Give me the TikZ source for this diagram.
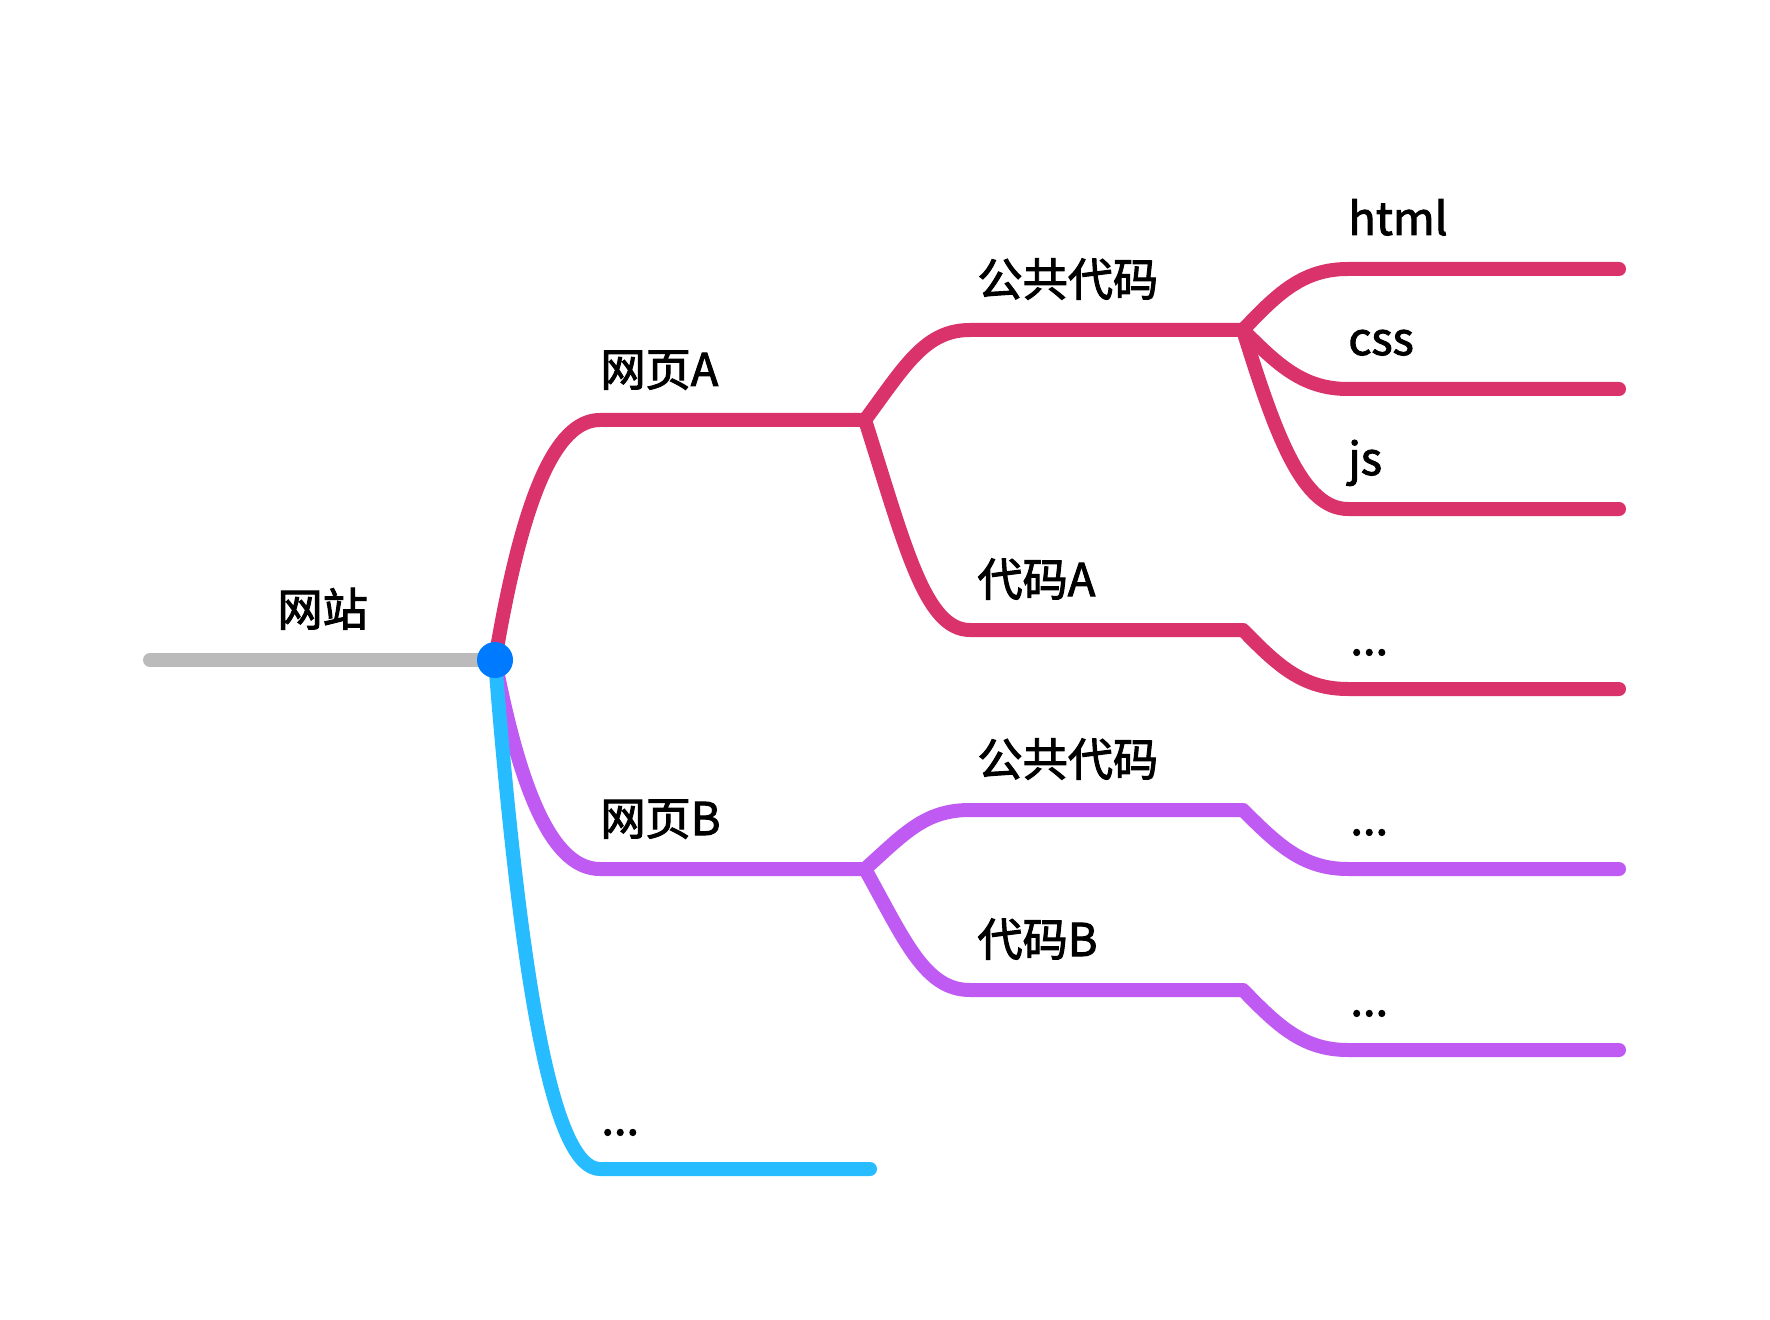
\documentclass[tikz,border=0pt]{standalone}
\usepackage{fontspec}
\setmainfont{Noto Sans CJK SC}[FakeBold=2.2]
\usetikzlibrary{calc}
\definecolor{cRed}{RGB}{218,50,106}
\definecolor{cPurple}{RGB}{191,90,242}
\definecolor{cCyan}{RGB}{38,188,255}
\definecolor{cDot}{RGB}{0,122,255}
\definecolor{cGray}{RGB}{187,187,187}
\tikzset{
  br/.style={line width=7pt, line cap=butt, line join=round},
  lbl/.style={anchor=base west, inner sep=0pt, font=\fontsize{22.6pt}{27pt}\selectfont, text=black},
}
\begin{document}
\begin{tikzpicture}[x=0.5pt,y=-0.5pt]
\useasboundingbox (0,0) rectangle (1770,1320);
% junctions and ends
\coordinate (G0) at (150,660);
\coordinate (R) at (495,660);
\coordinate (CA) at (600,420);  \coordinate (JA) at (865,420);
\coordinate (CB) at (600,869);  \coordinate (JB) at (865,869);
\coordinate (CC) at (600,1169); \coordinate (EC) at (870,1169);
\coordinate (CA1) at (970,330); \coordinate (JA1) at (1243,330);
\coordinate (CA2) at (970,630); \coordinate (JA2) at (1243,630);
\coordinate (CB1) at (970,810); \coordinate (JB1) at (1243,810);
\coordinate (CB2) at (970,990); \coordinate (JB2) at (1243,990);
\coordinate (CH) at (1348,269);  \coordinate (EH) at (1619,269);
\coordinate (CS) at (1348,389);  \coordinate (ES) at (1619,389);
\coordinate (CJ) at (1348,509);  \coordinate (EJ) at (1619,509);
\coordinate (CA2x) at (1348,689); \coordinate (EA2x) at (1619,689);
\coordinate (CB1x) at (1348,869); \coordinate (EB1x) at (1619,869);
\coordinate (CB2x) at (1348,1050); \coordinate (EB2x) at (1619,1050);

% root stem
\draw[br, cGray, line cap=round] (G0) -- (R);

% level 1
\draw[br, cRed] (R) .. controls +(27,-161) and +(-45,0) .. (CA) -- (JA);
\draw[br, cPurple] (R) .. controls +(27,140) and +(-45,0) .. (CB) -- (JB);

% level 2 (red)
\draw[br, cRed] (JA) .. controls +(40,-54) and +(-45,0) .. (CA1) -- (JA1);
\draw[br, cRed] (JA) .. controls +(40,126) and +(-45,0) .. (CA2) -- (JA2);
% level 3 (red)
\draw[br, cRed, line cap=round] (JA1) .. controls +(35,-37) and +(-45,0) .. (CH) -- (EH);
\draw[br, cRed, line cap=round] (JA1) .. controls +(35,35) and +(-45,0) .. (CS) -- (ES);
\draw[br, cRed, line cap=round] (JA1) .. controls +(33,107) and +(-45,0) .. (CJ) -- (EJ);
\draw[br, cRed, line cap=round] (JA2) .. controls +(35,36) and +(-45,0) .. (CA2x) -- (EA2x);

% level 2 (purple)
\draw[br, cPurple] (JB) .. controls +(40,-36) and +(-45,0) .. (CB1) -- (JB1);
\draw[br, cPurple] (JB) .. controls +(40,72) and +(-45,0) .. (CB2) -- (JB2);
% level 3 (purple)
\draw[br, cPurple, line cap=round] (JB1) .. controls +(35,35) and +(-45,0) .. (CB1x) -- (EB1x);
\draw[br, cPurple, line cap=round] (JB2) .. controls +(35,36) and +(-45,0) .. (CB2x) -- (EB2x);

% blue branch
\draw[br, cCyan, line cap=round] (R) .. controls +(27,341) and +(-45,0) .. (CC) -- (EC);

% root dot
\fill[cDot] (R) circle[radius=9pt];

% labels
\node[lbl] (tRoot) at (277,626) {网站};
\node[lbl] (tA) at (600,386) {网页A};
\node[lbl] (tB) at (600,835) {网页B};
\node[lbl] (tC) at (601,1135) {...};
\node[lbl] (tA1) at (977,296) {公共代码};
\node[lbl] (tA2) at (977,596) {代码A};
\node[lbl] (tB1) at (977,776) {公共代码};
\node[lbl] (tB2) at (977,956) {代码B};
\node[lbl] (tH) at (1348,235) {html};
\node[lbl] (tS) at (1348,355) {css};
\node[lbl] (tJ) at (1348,475) {js};
\node[lbl] (tA2x) at (1350,655) {...};
\node[lbl] (tB1x) at (1350,835) {...};
\node[lbl] (tB2x) at (1350,1016) {...};
\end{tikzpicture}
\end{document}
